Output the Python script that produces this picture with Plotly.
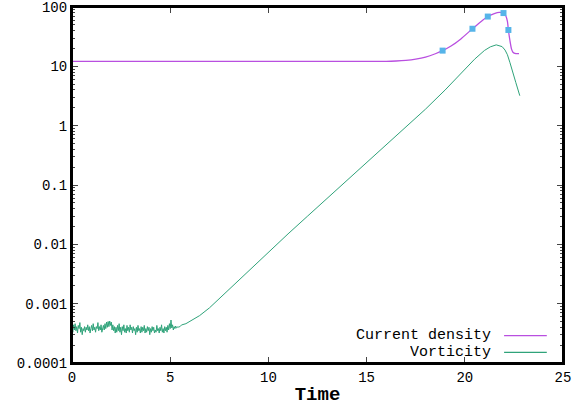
import plotly.graph_objects as go

# ---------------- data ----------------
# Current density (line)
cd_t = [0, 5, 10, 15, 16, 16.5, 17, 17.5, 18, 18.5, 18.87, 19.3, 19.8, 20.39, 20.8,
        21.17, 21.5, 21.75, 21.97, 22.08, 22.17, 22.22, 22.3, 22.38, 22.45, 22.6, 22.76]
cd_v = [12.1, 12.1, 12.1, 12.1, 12.15, 12.3, 12.6, 13.2, 14.3, 16.3, 18.4, 22, 29, 43, 56,
        69, 77, 81, 79, 72, 57, 41, 27, 19.5, 17.3, 16.4, 16.4]
# Current density sample points (markers)
cdm_t = [18.87, 20.39, 21.17, 21.97, 22.22]
cdm_v = [18.4, 43, 69, 79, 41]

# Vorticity: noisy floor (units of 1e-4), t = 0 ... 5.6 step 0.04
vort_noise_t = [round(i * 0.04, 2) for i in range(141)]
vort_noise_e4 = [
    4.0, 3.3, 4.4, 3.6, 4.6, 3.5, 4.1, 3.2, 4.3, 3.8, 4.8, 3.3, 4.0, 3.0, 3.8, 3.5, 4.1, 3.3, 4.0, 3.6,
    4.4, 3.5, 4.1, 3.2, 3.8, 4.3, 3.5, 4.6, 3.6, 4.0, 3.3, 4.1, 3.8, 4.8, 3.5, 4.1, 3.6, 4.4, 3.3, 4.0,
    4.3, 3.6, 4.6, 3.8, 4.9, 4.0, 5.0, 4.1, 5.1, 4.3, 4.9, 3.6, 4.4, 3.5, 4.1, 3.2, 4.0, 3.3, 4.3, 3.5,
    4.6, 3.3, 4.0, 3.0, 4.1, 3.5, 4.4, 3.3, 3.8, 3.2, 4.3, 3.5, 4.0, 3.3, 4.4, 3.6, 4.0, 3.2, 4.1, 3.5,
    3.8, 3.0, 4.0, 3.3, 4.3, 3.5, 3.8, 3.2, 4.1, 3.3, 4.0, 3.5, 4.3, 3.2, 3.8, 3.3, 4.1, 3.5, 4.0, 3.0,
    3.8, 3.3, 4.1, 3.5, 4.0, 3.2, 3.6, 3.3, 4.3, 3.5, 3.8, 3.2, 4.0, 3.5, 4.4, 3.3, 3.8, 3.2, 4.1, 3.5,
    4.0, 3.3, 4.3, 3.6, 4.6, 3.8, 5.3, 3.9, 4.4, 3.6, 4.1, 3.8, 4.2, 3.9, 4.0, 4.1, 4.0, 4.2, 4.2, 4.3,
    4.4]
# Vorticity: growth phase
vort_grow_t = [5.8, 6.0, 6.2, 6.5, 7, 8, 9, 10, 11, 12, 13, 14, 15, 16, 17, 18, 19, 20,
               20.5, 21, 21.3, 21.6, 21.9, 22.05, 22.17, 22.3, 22.42, 22.6, 22.8]
vort_grow_v = [4.6e-4, 5.0e-4, 5.4e-4, 6.3e-4, 8.5e-4, 1.75e-3, 3.6e-3, 7.4e-3, 1.5e-2, 3.0e-2,
               0.06, 0.12, 0.24, 0.48, 0.95, 1.9, 4.0, 9.0,
               13.2, 18.5, 21.3, 23.0, 21.5, 18.8, 15.7, 11.5, 8.2, 5.3, 3.2]

vort_t = vort_noise_t + vort_grow_t
vort_v = [v * 1e-4 for v in vort_noise_e4] + vort_grow_v

ytick_vals = [1e-4, 1e-3, 1e-2, 1e-1, 1, 10, 100]
ytick_text = ["0.0001", "0.001", "0.01", "0.1", "1", "10", "100"]
xtick_vals = [0, 5, 10, 15, 20, 25]
series_names = ["Current density", "Vorticity"]

# ---------------- styles ----------------
C_CD = "#b94fe0"
C_VO = "#2fa37a"
C_MK = "#56b4e9"
FONT = "Liberation Mono, Courier New, monospace"

fig = go.Figure()
fig.add_trace(go.Scatter(x=cd_t, y=cd_v, mode="lines", line=dict(color=C_CD, width=1.3, shape="spline", smoothing=0.6),
                         name=series_names[0], showlegend=False))
fig.add_trace(go.Scatter(x=cdm_t, y=cdm_v, mode="markers", marker=dict(color=C_MK, symbol="square", size=6),
                         showlegend=False))
fig.add_trace(go.Scatter(x=vort_t, y=vort_v, mode="lines", line=dict(color=C_VO, width=1),
                         name=series_names[1], showlegend=False))

minor_vals = [m * 10 ** e for e in range(-4, 2) for m in range(2, 10)]

fig.update_layout(
    width=576, height=408,
    margin=dict(l=72, r=13, t=7, b=45, autoexpand=False),
    paper_bgcolor="white", plot_bgcolor="white",
    font=dict(family=FONT, size=14, color="black"),
    xaxis=dict(range=[0, 25], tickvals=xtick_vals, ticks="inside", ticklen=6, tickwidth=1,
               showline=True, linecolor="black", linewidth=2, mirror="allticks", showgrid=False,
               zeroline=False, automargin=False, tickfont=dict(size=14), ticklabeloverflow="allow",
               title=dict(text="<b>Time</b>", font=dict(family=FONT, size=19), standoff=2)),
    yaxis=dict(type="log", range=[-4, 2], tickvals=ytick_vals, ticktext=ytick_text,
               ticks="inside", ticklen=6, tickwidth=1, automargin=False, tickfont=dict(size=14),
               ticklabeloverflow="allow",
               showline=True, linecolor="black", linewidth=2, mirror="allticks", showgrid=False,
               zeroline=False,
               minor=dict(tickvals=minor_vals, ticks="inside", ticklen=3, tickwidth=1, showgrid=False)),
)

# plot frame
fig.add_shape(type="rect", xref="paper", yref="paper", x0=0, x1=1, y0=0, y1=1,
              line=dict(color="black", width=2), layer="above")

# legend drawn gnuplot-style (text left, sample line right)
leg_y = [0.077, 0.030]
for name, col, yy in zip(series_names, [C_CD, C_VO], leg_y):
    fig.add_annotation(x=0.857, y=yy, xref="paper", yref="paper", text=name, showarrow=False,
                       xanchor="right", yanchor="middle", height=15,
                       font=dict(family=FONT, size=15, color="black"))
    fig.add_shape(type="line", xref="paper", yref="paper", x0=0.88, x1=0.967, y0=yy, y1=yy,
                  line=dict(color=col, width=1.3))

fig.write_html("out.html")
